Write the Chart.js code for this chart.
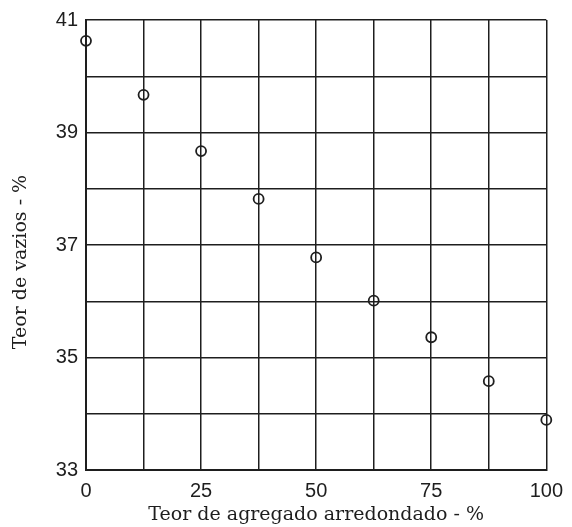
<!DOCTYPE html>
<html>
<head>
<meta charset="utf-8">
<title>Teor de vazios</title>
<script src="https://cdn.jsdelivr.net/npm/chart.js@4/dist/chart.umd.min.js"></script>
<style>
  html, body { margin: 0; padding: 0; background: #fff; }
  #wrap { width: 572px; height: 527px; }
</style>
</head>
<body>
<div id="wrap"><canvas id="voidChart" width="572" height="527"></canvas></div>
<script>
// teor de agregado arredondado (%) e teor de vazios (%)
const agregado = [0, 12.5, 25, 37.5, 50, 62.5, 75, 87.5, 100];
const vazios = [40.63, 39.67, 38.67, 37.82, 36.78, 36.01, 35.36, 34.58, 33.89];

const xLabels = [0, 25, 50, 75, 100];
const yLabels = [33, 35, 37, 39, 41];

const xTitle = "Teor de agregado arredondado - %";
const yTitle = "Teor de vazios - %";

const ink = "#1e1e1e";
const sans = "'Liberation Sans', Arial, sans-serif";
const serif = "'DejaVu Serif', 'Liberation Serif', serif";

const points = agregado.map((x, i) => ({ x, y: vazios[i] }));

// axis titles drawn by hand so the vertical one can sit a bit low, as printed
const axisTitles = {
  id: "axisTitles",
  afterDraw(chart) {
    const { ctx, chartArea } = chart;
    ctx.save();
    ctx.fillStyle = ink;
    ctx.font = "19px " + serif;
    ctx.textAlign = "center";
    ctx.textBaseline = "middle";
    ctx.fillText(xTitle, (chartArea.left + chartArea.right) / 2, 515);
    ctx.translate(21, 262);
    ctx.rotate(-Math.PI / 2);
    ctx.fillText(yTitle, 0, 0);
    ctx.restore();
  }
};

new Chart(document.getElementById("voidChart"), {
  type: "scatter",
  data: {
    datasets: [{
      data: points,
      pointStyle: "circle",
      pointRadius: 5,
      pointHoverRadius: 5,
      borderWidth: 1.8,
      borderColor: ink,
      backgroundColor: "rgba(0,0,0,0)",
      clip: false
    }]
  },
  options: {
    responsive: false,
    animation: false,
    events: [],
    layout: { padding: { top: 20, right: 24, left: 0, bottom: 0 } },
    plugins: {
      legend: { display: false },
      tooltip: { enabled: false }
    },
    scales: {
      x: {
        type: "linear",
        min: 0,
        max: 100,
        afterFit: scale => { scale.height = 57; },
        ticks: {
          stepSize: 12.5,
          autoSkip: false,
          maxRotation: 0,
          padding: 9,
          color: ink,
          font: { family: sans, size: 20 },
          callback: v => xLabels.includes(v) ? String(v) : ""
        },
        grid: { color: ink, lineWidth: 1.5, drawTicks: false },
        border: { display: true, color: ink, width: 2 }
      },
      y: {
        type: "linear",
        min: 33,
        max: 41,
        afterFit: scale => { scale.width = 86; },
        ticks: {
          stepSize: 1,
          autoSkip: false,
          padding: 8,
          color: ink,
          font: { family: sans, size: 20 },
          callback: v => yLabels.includes(v) ? String(v) : ""
        },
        grid: { color: ink, lineWidth: 1.5, drawTicks: false },
        border: { display: true, color: ink, width: 2 }
      }
    }
  },
  plugins: [axisTitles]
});
</script>
</body>
</html>
